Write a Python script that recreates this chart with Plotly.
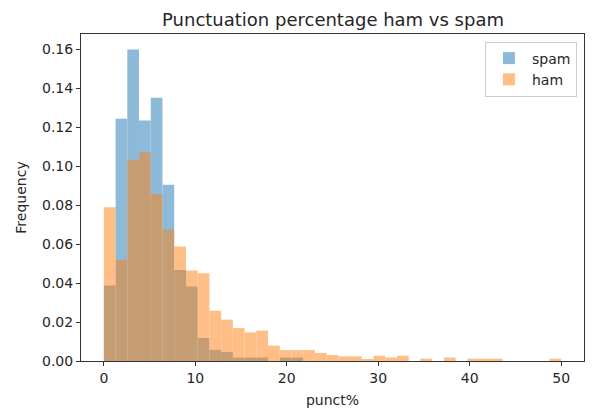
import numpy as np
import plotly.graph_objects as go

# histogram bins: np.linspace(0, 50, 40) -> 39 bins
bin_edges = np.linspace(0, 50, 40)

# density heights
spam = [0.0387, 0.1243, 0.1597, 0.1234, 0.1350, 0.0904, 0.0467, 0.0382, 0.0118, 0.0057,
        0.0046, 0.0018, 0.0018, 0.0018, 0.0, 0.0018, 0.0018, 0.0, 0.0, 0.0,
        0.0, 0.0, 0.0, 0.0, 0.0, 0.0, 0.0, 0.0, 0.0, 0.0,
        0.0, 0.0, 0.0, 0.0, 0.0, 0.0, 0.0, 0.0, 0.0]
ham = [0.0789, 0.0519, 0.1032, 0.1071, 0.0857, 0.0673, 0.0587, 0.0464, 0.0450, 0.0258,
       0.0212, 0.0169, 0.0147, 0.0156, 0.0079, 0.0056, 0.0056, 0.0056, 0.0041, 0.0031,
       0.0024, 0.0024, 0.0010, 0.0027, 0.0018, 0.0027, 0.0, 0.0012, 0.0, 0.0018,
       0.0, 0.0012, 0.0012, 0.0012, 0.0, 0.0, 0.0, 0.0, 0.0012]

centers = (bin_edges[:-1] + bin_edges[1:]) / 2
widths = np.diff(bin_edges)

font = "DejaVu Sans"
ink = "#262626"

fig = go.Figure()
fig.add_trace(go.Bar(x=centers, y=spam, width=widths, name="spam",
                     marker=dict(color="#1f77b4", line=dict(width=0)), opacity=0.5))
fig.add_trace(go.Bar(x=centers, y=ham, width=widths, name="ham",
                     marker=dict(color="#ff7f0e", line=dict(width=0)), opacity=0.5))

axis_style = dict(showline=True, mirror=True, linecolor="#333333", linewidth=1,
                  ticks="outside", ticklen=4, tickwidth=1, tickcolor="#333333",
                  showgrid=False, zeroline=False, automargin=False,
                  tickfont=dict(family=font, size=14, color=ink))

# page body adds an 8px margin, so the figure is sized to fit inside the window
fig.update_layout(
    width=599, height=403,
    barmode="overlay",
    paper_bgcolor="white", plot_bgcolor="white",
    margin=dict(l=73, r=23, t=26, b=50),
    font=dict(family=font, size=14, color=ink),
    title=dict(text="Punctuation percentage ham vs spam", x=0.5426, xanchor="center",
               y=0.972, yanchor="middle", font=dict(family=font, size=18, color=ink)),
    xaxis=dict(range=[-2.5, 52.5], dtick=10,
               title=dict(text="punct%", standoff=10, font=dict(size=14)), **axis_style),
    yaxis=dict(range=[0, 0.1677], dtick=0.02, tickformat=".2f",
               title=dict(text="Frequency", standoff=12, font=dict(size=14)), **axis_style),
    legend=dict(x=0.986, y=0.977, xanchor="right", yanchor="top",
                bordercolor="#cccccc", borderwidth=1, bgcolor="rgba(255,255,255,0.8)",
                itemwidth=36,
                font=dict(family=font, size=14, color=ink)),
)

fig.write_html("out.html")
